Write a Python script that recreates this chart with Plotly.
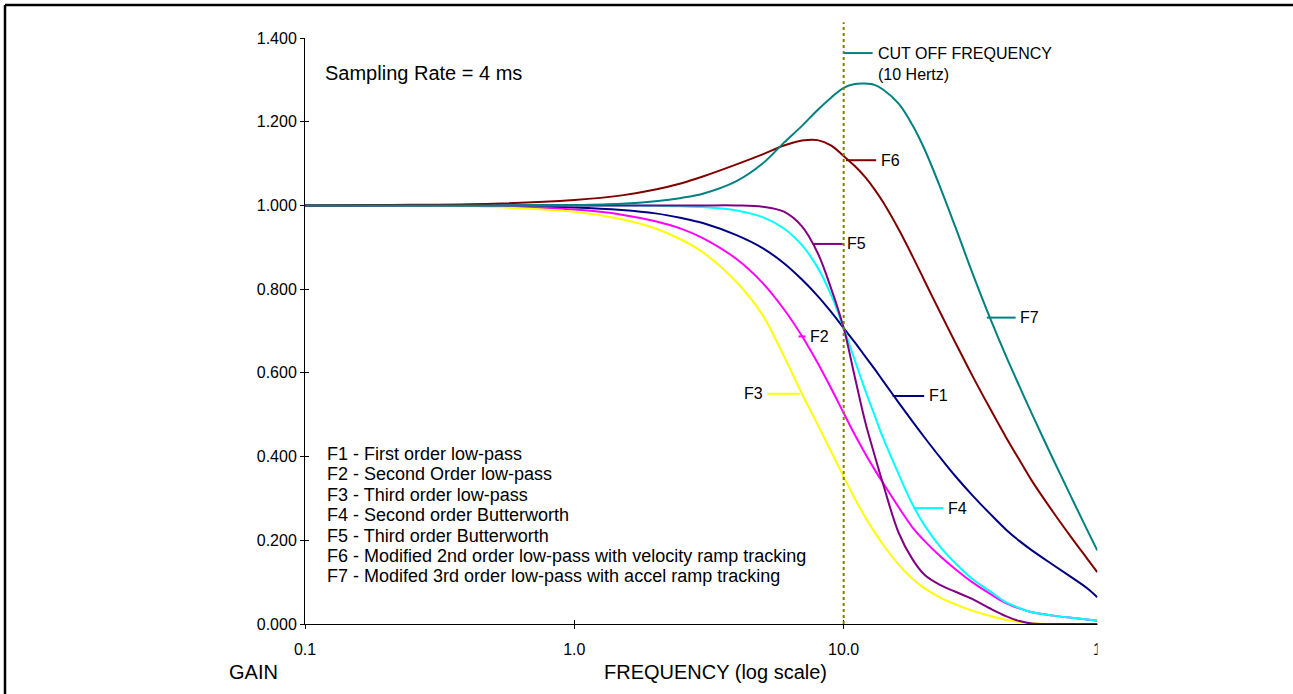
import numpy as np
import plotly.graph_objects as go

# Frequency grid (Hz) and filter gains
freq = [0.1, 0.2, 0.5, 1, 1.5, 2, 2.5, 3, 4, 5, 6, 7, 8, 9, 10, 11, 12, 13, 14, 16,
        18, 20, 23, 26, 30, 35, 40, 45, 50, 60, 70, 80, 87.4]

f1 = [1.000, 1.000, 0.999, 0.995, 0.989, 0.981, 0.970, 0.958, 0.929, 0.898, 0.862, 0.823,
      0.784, 0.745, 0.707, 0.673, 0.640, 0.610, 0.581, 0.529, 0.484, 0.445, 0.395, 0.353,
      0.308, 0.263, 0.226, 0.198, 0.176, 0.141, 0.112, 0.086, 0.064]
f2 = [1.000, 1.000, 0.998, 0.990, 0.978, 0.962, 0.944, 0.922, 0.872, 0.815, 0.752, 0.688,
      0.624, 0.562, 0.504, 0.452, 0.408, 0.370, 0.337, 0.279, 0.231, 0.198, 0.160, 0.131,
      0.100, 0.072, 0.050, 0.037, 0.028, 0.020, 0.015, 0.011, 0.008]
f3 = [1.000, 1.000, 0.996, 0.985, 0.967, 0.945, 0.918, 0.888, 0.817, 0.738, 0.640, 0.550,
      0.477, 0.411, 0.352, 0.300, 0.256, 0.220, 0.190, 0.142, 0.108, 0.085, 0.062, 0.047,
      0.032, 0.019, 0.010, 0.005, 0.002, 0.000, 0.000, 0.000, 0.000]
f4 = [1.000, 1.000, 1.000, 1.000, 1.000, 0.999, 0.998, 0.996, 0.988, 0.972, 0.945, 0.905,
      0.852, 0.785, 0.707, 0.630, 0.560, 0.500, 0.445, 0.358, 0.286, 0.235, 0.182, 0.145,
      0.108, 0.078, 0.052, 0.038, 0.028, 0.020, 0.015, 0.011, 0.008]
f5 = [1.000, 1.000, 1.000, 1.000, 1.000, 1.000, 1.000, 1.000, 1.000, 0.997, 0.985, 0.950,
      0.887, 0.800, 0.707, 0.590, 0.485, 0.405, 0.335, 0.218, 0.155, 0.117, 0.092, 0.077,
      0.060, 0.037, 0.019, 0.007, 0.001, 0.000, 0.000, 0.000, 0.000]
f6 = [1.000, 1.001, 1.004, 1.013, 1.024, 1.038, 1.053, 1.069, 1.098, 1.122, 1.143, 1.155,
      1.156, 1.143, 1.118, 1.094, 1.068, 1.039, 1.008, 0.943, 0.879, 0.819, 0.740, 0.672,
      0.594, 0.514, 0.447, 0.391, 0.342, 0.267, 0.207, 0.157, 0.124]
f7 = [1.000, 1.000, 1.000, 1.001, 1.004, 1.010, 1.018, 1.028, 1.058, 1.100, 1.150, 1.190,
      1.228, 1.258, 1.281, 1.290, 1.291, 1.288, 1.277, 1.243, 1.192, 1.133, 1.038, 0.948,
      0.840, 0.730, 0.641, 0.567, 0.502, 0.393, 0.303, 0.226, 0.176]

series_names = ["F1", "F2", "F3", "F4", "F5", "F6", "F7"]
series_vals = [f1, f2, f3, f4, f5, f6, f7]
colors = {"F1": "#000080", "F2": "#FF00FF", "F3": "#FFFF00", "F4": "#00FFFF",
          "F5": "#800080", "F6": "#800000", "F7": "#008080"}

x_tickvals = [0.1, 1, 10, 100]
x_ticktext = ["0.1", "1.0", "10.0", "100.0"]
y_tickvals = [0.0, 0.2, 0.4, 0.6, 0.8, 1.0, 1.2, 1.4]

cutoff_freq = 10

legend_lines = [
    "F1 - First order low-pass",
    "F2 - Second Order low-pass",
    "F3 - Third order low-pass",
    "F4 - Second order Butterworth",
    "F5 - Third order Butterworth",
    "F6 - Modified 2nd order low-pass with velocity ramp tracking",
    "F7 - Modifed 3rd order low-pass with accel ramp tracking",
]

# Curve call-outs: (name, leader start f, leader end f, gain, text side)
callouts = [
    ("F6", 10.2, 13.2, 1.108, "right"),
    ("F5", 7.67, 9.92, 0.908, "right"),
    ("F2", 6.8, 7.22, 0.687, "right"),
    ("F3", 5.2, 6.87, 0.550, "left"),
    ("F1", 15.2, 19.9, 0.545, "right"),
    ("F4", 18.1, 23.4, 0.277, "right"),
    ("F7", 34.0, 43.5, 0.732, "right"),
]

FONT = "Arial, 'Liberation Sans', sans-serif"

# Plot-area geometry in pixels, used to place free text in paper units
PX_LEFT, PX_WIDTH, PX_BOTTOM, PX_HEIGHT = 305, 808, 624, 586


def px_to_paper(px, py):
    return (px - PX_LEFT) / PX_WIDTH, (PX_BOTTOM - py) / PX_HEIGHT


fig = go.Figure()

for name, vals in zip(series_names, series_vals):
    fig.add_trace(go.Scatter(
        x=freq, y=vals, mode="lines", name=name,
        line=dict(color=colors[name], width=2, shape="spline", smoothing=1.0),
        showlegend=False, hoverinfo="skip",
    ))

# Leader lines for the curve labels
for name, fa, fb, g, side in callouts:
    fig.add_trace(go.Scatter(
        x=[fa, fb], y=[g, g], mode="lines",
        line=dict(color=colors[name], width=2),
        showlegend=False, hoverinfo="skip",
    ))
    if side == "right":
        fig.add_annotation(x=np.log10(fb) + 0.009, y=g, xref="x", yref="y", text=name,
                           showarrow=False, xanchor="left", yanchor="middle",
                           font=dict(size=16, color="black", family=FONT))
    else:
        fig.add_annotation(x=np.log10(fa) - 0.007, y=g, xref="x", yref="y", text=name,
                           showarrow=False, xanchor="right", yanchor="middle",
                           font=dict(size=16, color="black", family=FONT))

# Cut-off frequency marker
fig.add_shape(type="line", xref="paper", yref="paper",
              x0=2 / 3, x1=2 / 3, y0=0, y1=1.027,
              line=dict(color="#808000", width=2, dash="dot"))
fig.add_trace(go.Scatter(
    x=[cutoff_freq, 12.81], y=[1.364, 1.364], mode="lines",
    line=dict(color="#008080", width=2), showlegend=False, hoverinfo="skip",
    cliponaxis=False,
))
fig.add_annotation(x=np.log10(13.2), y=1.364, xref="x", yref="y",
                   text="CUT OFF FREQUENCY", showarrow=False,
                   xanchor="left", yanchor="middle",
                   font=dict(size=16, color="black", family=FONT))
fig.add_annotation(x=np.log10(13.2), y=1.313, xref="x", yref="y",
                   text="(10 Hertz)", showarrow=False,
                   xanchor="left", yanchor="middle",
                   font=dict(size=16, color="black", family=FONT))

# Sampling rate note
sx, sy = px_to_paper(323, 73)
fig.add_annotation(x=sx, y=sy, xref="paper", yref="paper",
                   text="Sampling Rate = 4 ms", showarrow=False,
                   xanchor="left", yanchor="middle",
                   font=dict(size=20, color="black", family=FONT))

# Key to the filter names
for i, line in enumerate(legend_lines):
    lx, ly = px_to_paper(325, 454 + i * 20.4)
    fig.add_annotation(x=lx, y=ly, xref="paper", yref="paper",
                       text=line, showarrow=False, xanchor="left", yanchor="middle",
                       font=dict(size=18, color="black", family=FONT))

# Axis captions
gx, gy = px_to_paper(227, 672)
fig.add_annotation(x=gx, y=gy, xref="paper", yref="paper", text="GAIN",
                   showarrow=False, xanchor="left", yanchor="middle",
                   font=dict(size=20, color="black", family=FONT))
fx, fy = px_to_paper(602, 672)
fig.add_annotation(x=fx, y=fy, xref="paper", yref="paper",
                   text="FREQUENCY (log scale)", showarrow=False,
                   xanchor="left", yanchor="middle",
                   font=dict(size=20, color="black", family=FONT))

# Right-hand portion of the chart is blanked off
cx0, cy1 = px_to_paper(1097.5, 14)
cx1, _ = px_to_paper(1300, 14)
fig.add_shape(type="rect", xref="paper", yref="paper",
              x0=cx0, x1=cx1, y0=-0.2, y1=cy1,
              fillcolor="white", line=dict(width=0), layer="above")

# Outer frame (left and top edges)
bx0, by1 = px_to_paper(5, 5)
bx1, _ = px_to_paper(1293, 5)
fig.add_shape(type="line", xref="paper", yref="paper",
              x0=bx0, x1=bx0, y0=-0.2, y1=by1,
              line=dict(color="black", width=2.5), layer="above")
fig.add_shape(type="line", xref="paper", yref="paper",
              x0=bx0, x1=bx1, y0=by1, y1=by1,
              line=dict(color="black", width=2.5), layer="above")

fig.update_layout(
    width=1293, height=694, autosize=False,
    margin=dict(l=305, r=180, t=38, b=70, pad=0),
    paper_bgcolor="white", plot_bgcolor="white",
    font=dict(family=FONT, size=16, color="black"),
    xaxis=dict(type="log", range=[-1, 2], tickvals=x_tickvals, ticktext=x_ticktext,
               showgrid=False, zeroline=False, showline=True, linecolor="black",
               linewidth=1, ticks="outside", ticklen=4, tickcolor="black",
               ticklabelstandoff=7,
               tickfont=dict(size=16, family=FONT, color="black"),
               layer="below traces"),
    yaxis=dict(range=[0, 1.4], tickvals=y_tickvals, tickformat=".3f",
               showgrid=False, zeroline=False, showline=True, linecolor="black",
               linewidth=1, ticks="outside", ticklen=4, tickcolor="black",
               tickfont=dict(size=16, family=FONT, color="black"),
               layer="below traces"),
    xaxis2=dict(type="log", range=[-1, 2], tickvals=x_tickvals, overlaying="x",
                showticklabels=False, showgrid=False, zeroline=False, showline=False,
                ticks="inside", ticklen=4, tickcolor="black", side="bottom",
                anchor="y", layer="below traces"),
    yaxis2=dict(range=[0, 1.4], tickvals=y_tickvals, overlaying="y",
                showticklabels=False, showgrid=False, zeroline=False, showline=False,
                ticks="inside", ticklen=4, tickcolor="black", side="left",
                anchor="x", layer="below traces"),
    showlegend=False,
)

# Invisible trace that activates the secondary axes used for crossing ticks
fig.add_trace(go.Scatter(x=[1], y=[1], xaxis="x2", yaxis="y2", mode="markers",
                         marker=dict(opacity=0), showlegend=False, hoverinfo="skip"))

fig.write_html(
    "out.html",
    config={"displayModeBar": False},
    post_script=("document.documentElement.style.overflow='hidden';"
                 "document.body.style.overflow='hidden';"
                 "document.body.style.margin='0';"),
)
